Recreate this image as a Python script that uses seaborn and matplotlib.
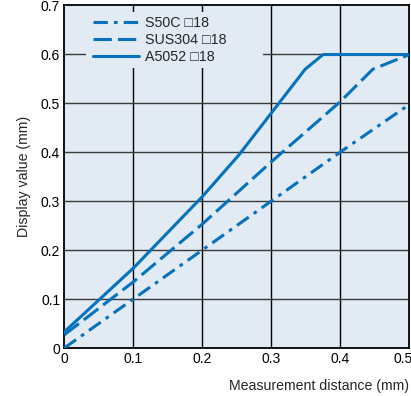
import matplotlib
matplotlib.use("Agg")
import numpy as np
import pandas as pd
import seaborn as sns
from matplotlib import pyplot as plt
from matplotlib.patches import Rectangle

# values
s50c_x = [0.0, 0.1, 0.2, 0.3, 0.4, 0.5]
s50c_y = [0.0, 0.1, 0.2, 0.3, 0.4, 0.497]
sus304_x = [0.0, 0.1, 0.2, 0.3, 0.4, 0.447, 0.5]
sus304_y = [0.027, 0.135, 0.253, 0.38, 0.503, 0.569, 0.599]
a5052_x = [0.0, 0.1, 0.2, 0.253, 0.349, 0.375, 0.5]
a5052_y = [0.033, 0.163, 0.309, 0.394, 0.569, 0.599, 0.599]

series_names = ["S50C \u25a118", "SUS304 \u25a118", "A5052 \u25a118"]
xticks = [0, 0.1, 0.2, 0.3, 0.4, 0.5]
xlabels = ["0", "0.1", "0.2", "0.3", "0.4", "0.5"]
yticks = [0, 0.1, 0.2, 0.3, 0.4, 0.5, 0.6, 0.7]
ylabels = ["0", "0.1", "0.2", "0.3", "0.4", "0.5", "0.6", "0.7"]

sns.set_style("ticks")
plt.rcParams['font.family'] = ['Liberation Sans', 'DejaVu Sans']

blue = "#0572bd"
bg = "#e2eaf4"
fig = plt.figure(figsize=(4.11, 3.96), dpi=100)
ax = fig.add_axes([0.1565, 0.1212, 0.8395, 0.866])
ax.set_facecolor(bg)

df = pd.concat([
    pd.DataFrame({"x": s50c_x, "y": s50c_y, "s": series_names[0]}),
    pd.DataFrame({"x": sus304_x, "y": sus304_y, "s": series_names[1]}),
    pd.DataFrame({"x": a5052_x, "y": a5052_y, "s": series_names[2]}),
])

styles = [(0, (4.7, 2.0, 1.2, 2.0)), (0, (6, 2.0)), "-"]
for name, ls in zip(series_names, styles):
    d = df[df["s"] == name]
    sns.lineplot(data=d, x="x", y="y", ax=ax, color=blue, lw=2.2,
                 linestyle=ls, label=name, sort=False, estimator=None, zorder=3)

ax.set_xlim(0, 0.5)
ax.set_ylim(0, 0.7)
ax.set_xticks(xticks)
ax.set_xticklabels(xlabels)
ax.set_yticks(yticks)
ax.set_yticklabels(ylabels)
for xv in xticks[1:-1]:
    ax.axvline(xv, color="black", lw=1.0, zorder=1)
for yv in yticks[1:-1]:
    ax.axhline(yv, color="#3a3a3a", lw=1.0, zorder=1)
# blank patch behind the legend hides the grid there
ax.add_patch(Rectangle((0.063, 0.816), 0.513, 0.164, transform=ax.transAxes,
                       facecolor=bg, edgecolor="none", zorder=1.5))
for sp in ax.spines.values():
    sp.set_color("black")
    sp.set_linewidth(1.3)
ax.tick_params(length=0, labelsize=10, pad=3, colors="black")
# last x label sits left of its tick so it stays inside the picture
lab = ax.get_xticklabels()[-1]
lab.set_horizontalalignment("right")
lab.set_transform(lab.get_transform()
                  + matplotlib.transforms.ScaledTranslation(0.03, 0, fig.dpi_scale_trans))

ax.set_xlabel("Measurement distance (mm)", loc="right", fontsize=10.2, labelpad=9)
ax.set_ylabel("Display value (mm)", fontsize=10.2, labelpad=7)

ax.legend(loc="upper left", frameon=False, fontsize=10.3, handlelength=3.2,
          borderaxespad=0, borderpad=0, labelspacing=0.2, handletextpad=0.45,
          bbox_to_anchor=(0.083, 0.967))

fig.savefig("out.png", dpi=100)
